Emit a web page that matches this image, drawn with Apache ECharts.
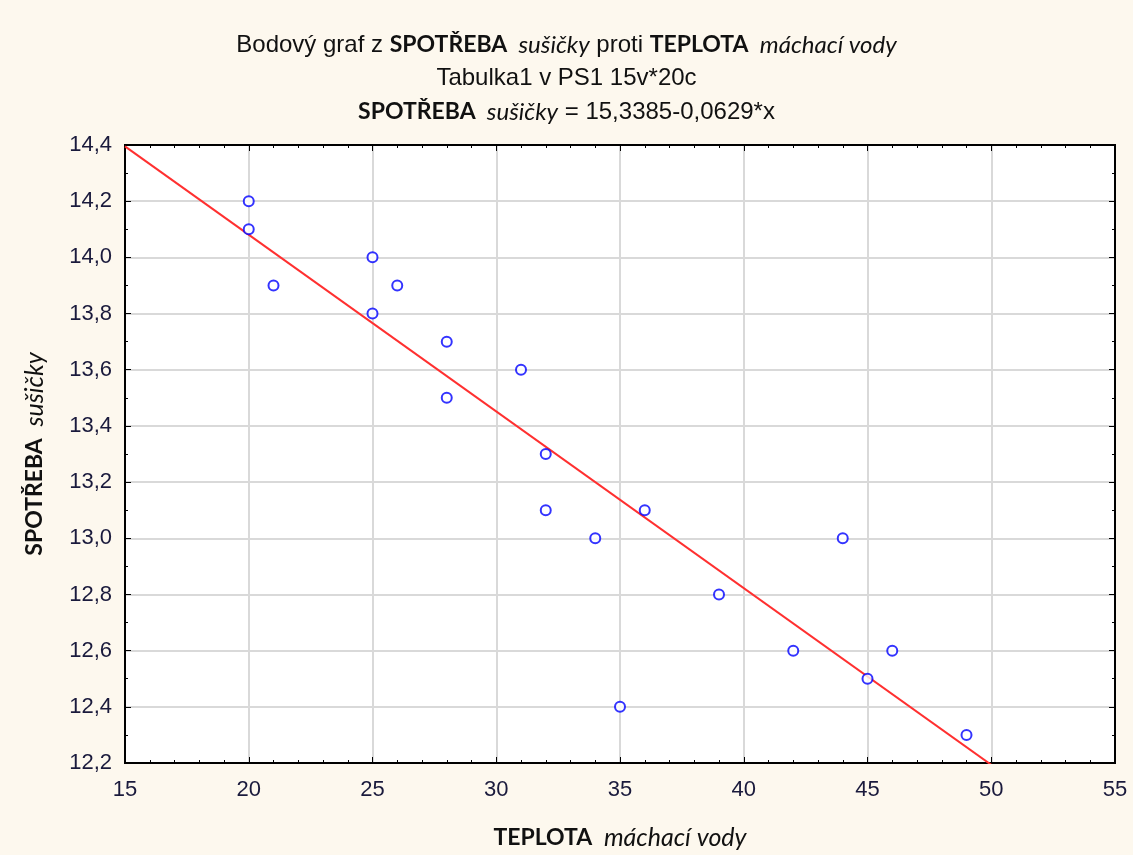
<!DOCTYPE html>
<html><head><meta charset="utf-8">
<script src="https://cdn.jsdelivr.net/npm/echarts@6/dist/echarts.min.js"></script>
<style>html,body{margin:0;padding:0;background:#fdf8ee;}#c{width:1133px;height:855px;}</style>
</head><body><div id="c"></div>
<script>
const teplota = [20, 20, 21, 25, 25, 26, 28, 28, 31, 32, 32, 34, 35, 36, 39, 42, 44, 45, 46, 49];
const spotreba = [14.2, 14.1, 13.9, 14.0, 13.8, 13.9, 13.7, 13.5, 13.6, 13.3, 13.1, 13.0, 12.4, 13.1, 12.8, 12.6, 13.0, 12.5, 12.6, 12.3];
const fitX = [15, 55];
const fitY = [14.395, 11.879];
const xTicks = [15, 20, 25, 30, 35, 40, 45, 50, 55];
const yTicks = [12.2, 12.4, 12.6, 12.8, 13.0, 13.2, 13.4, 13.6, 13.8, 14.0, 14.2, 14.4];

const normF = '"Liberation Sans", Arial, sans-serif';
const calF = 'Lato, "Open Sans", sans-serif';
const chart = echarts.init(document.getElementById('c'));
const lblColor = '#1a1a3c';
const txt = '#111';
const fmtY = v => v.toFixed(1).replace('.', ',');
const richT = {
  n: {fontFamily: normF, fontSize: 24, fontWeight: 'normal', color: txt},
  b: {fontFamily: calF, fontSize: 23, fontWeight: 'bold', color: txt},
  i: {fontFamily: calF, fontSize: 24, fontWeight: 'normal', fontStyle: 'italic', color: txt}
};
const richA = {
  b: {fontFamily: calF, fontSize: 23, fontWeight: 'bold', color: txt},
  i: {fontFamily: calF, fontSize: 25, fontWeight: 'normal', fontStyle: 'italic', color: txt}
};
const common = {
  axisLine: {show: true, lineStyle: {color: '#000', width: 2}},
  axisTick: {show: true, inside: true, length: 6, lineStyle: {color: '#000', width: 1}},
  minorTick: {show: true, length: 3, lineStyle: {color: '#000', width: 1}},
};
chart.setOption({
  backgroundColor: '#fdf8ee',
  animation: false,
  title: [{
    left: 'center', top: 28,
    text: '{n|Bodový graf z }{b|SPOTŘEBA}{i|  sušičky}{n| proti }{b|TEPLOTA}{i|  máchací vody}',
    textStyle: {fontWeight: 'normal', rich: richT}
  }, {
    left: 'center', top: 61,
    text: 'Tabulka1 v PS1 15v*20c',
    textStyle: {fontFamily: normF, fontSize: 24, fontWeight: 'normal', color: txt}
  }, {
    left: 'center', top: 95,
    text: '{b|SPOTŘEBA}{i|  sušičky}{n| = 15,3385-0,0629*x}',
    textStyle: {fontWeight: 'normal', rich: richT}
  }],
  grid: {left: 125, top: 145, right: 18, bottom: 92, show: true, backgroundColor: '#fff', borderColor: '#000', borderWidth: 2},
  xAxis: [{
    type: 'value', min: xTicks[0], max: xTicks[xTicks.length - 1], interval: 5, position: 'bottom',
    ...common, minorTick: {...common.minorTick, splitNumber: 5},
    axisLabel: {color: lblColor, fontSize: 22, fontFamily: normF, margin: 16},
    splitLine: {show: true, lineStyle: {color: '#d9d9d9', width: 2}},
    name: '{b|TEPLOTA}{i|  máchací vody}', nameLocation: 'middle', nameGap: 62,
    nameTextStyle: {rich: richA}
  }, {
    type: 'value', min: xTicks[0], max: xTicks[xTicks.length - 1], interval: 5, position: 'top',
    ...common, minorTick: {...common.minorTick, splitNumber: 5},
    axisLabel: {show: false}, splitLine: {show: false}
  }],
  yAxis: [{
    type: 'value', min: yTicks[0], max: yTicks[yTicks.length - 1], interval: 0.2, position: 'left',
    ...common, minorTick: {...common.minorTick, splitNumber: 2},
    axisLabel: {color: lblColor, fontSize: 22, fontFamily: normF, margin: 13, formatter: fmtY},
    splitLine: {show: true, lineStyle: {color: '#d9d9d9', width: 2}},
    name: '{b|SPOTŘEBA}{i|  sušičky}', nameLocation: 'middle', nameGap: 78, nameRotate: 90,
    nameTextStyle: {rich: richA}
  }, {
    type: 'value', min: yTicks[0], max: yTicks[yTicks.length - 1], interval: 0.2, position: 'right',
    ...common, minorTick: {...common.minorTick, splitNumber: 2},
    axisLabel: {show: false}, splitLine: {show: false}
  }],
  series: [{
    type: 'line', xAxisIndex: 0, yAxisIndex: 0,
    data: fitX.map((x, i) => [x, fitY[i]]),
    showSymbol: false, symbol: 'none', clip: true,
    lineStyle: {color: '#ff3030', width: 2}, z: 2
  }, {
    type: 'scatter', xAxisIndex: 0, yAxisIndex: 0,
    data: teplota.map((x, i) => [x, spotreba[i]]),
    symbol: 'circle', symbolSize: 10,
    itemStyle: {color: '#fff', borderColor: '#0000ff', borderWidth: 2}, z: 3
  }]
});
</script></body></html>
